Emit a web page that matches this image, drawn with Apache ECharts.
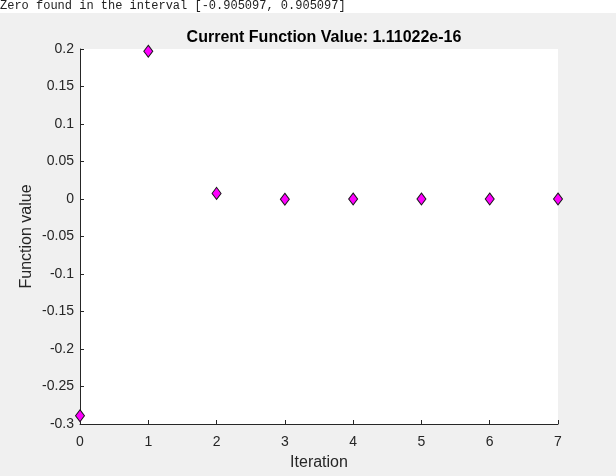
<!DOCTYPE html>
<html>
<head>
<meta charset="utf-8">
<script src="https://cdn.jsdelivr.net/npm/echarts@6/dist/echarts.min.js"></script>
<style>
html,body{margin:0;padding:0;background:#f0f0f0;}
#c{width:616px;height:476px;}
</style>
</head>
<body>
<div id="c"></div>
<script>
const iterations = [0, 1, 2, 3, 4, 5, 6, 7];
const fvals = [-0.289, 0.197, 0.0075, -0.0003, 0.00001, 0, 0, 1.11022e-16];
const headerText = 'Zero found in the interval [-0.905097, 0.905097]';
const titleText = 'Current Function Value: 1.11022e-16';
const yTickLabels = {'0.2':'0.2','0.15':'0.15','0.1':'0.1','0.05':'0.05','0':'0','-0.05':'-0.05','-0.1':'-0.1','-0.15':'-0.15','-0.2':'-0.2','-0.25':'-0.25','-0.3':'-0.3'};

const chart = echarts.init(document.getElementById('c'), null, {renderer:'canvas'});
const axisColor = '#262626';
const font = '"Liberation Sans", Arial, Helvetica, sans-serif';
chart.setOption({
  backgroundColor: '#f0f0f0',
  animation: false,
  graphic: [
    {type:'rect', shape:{x:0,y:0,width:616,height:13}, style:{fill:'#ffffff'}, silent:true},
    {type:'text', left:0, top:0, style:{text: headerText, font:'12px "Liberation Mono", "DejaVu Sans Mono", monospace', fill:'#222222'}}
  ],
  title: {
    text: titleText,
    left: 319, top: 25, textAlign: 'center',
    textStyle: {fontFamily: font, fontSize: 16, fontWeight: 'bold', color: '#000000'}
  },
  grid: {left: 80, right: 58, top: 49, bottom: 52, containLabel: false, show: true, backgroundColor: '#ffffff', borderWidth: 0},
  xAxis: {
    type: 'value', min: 0, max: 7, interval: 1,
    name: 'Iteration', nameLocation: 'middle', nameGap: 31, nameMoveOverlap: false,
    nameTextStyle: {fontFamily: font, fontSize: 16, color: axisColor},
    axisLine: {show: true, onZero: false, lineStyle: {color: axisColor, width: 1}},
    axisTick: {show: true, inside: true, length: 4, lineStyle: {color: axisColor}},
    axisLabel: {fontFamily: font, fontSize: 14, color: axisColor, margin: 11},
    splitLine: {show: false}
  },
  yAxis: {
    type: 'value', min: -0.3, max: 0.2, interval: 0.05,
    name: 'Function value', nameLocation: 'middle', nameGap: 45, nameRotate: 90, nameMoveOverlap: false,
    nameTextStyle: {fontFamily: font, fontSize: 16, color: axisColor},
    axisLine: {show: true, onZero: false, lineStyle: {color: axisColor, width: 1}},
    axisTick: {show: true, inside: true, length: 4, lineStyle: {color: axisColor}},
    axisLabel: {fontFamily: font, fontSize: 14, color: axisColor, margin: 6,
      formatter: v => { const k = String(Math.round(v*100)/100); return yTickLabels[k] !== undefined ? yTickLabels[k] : k; }},
    splitLine: {show: false}
  },
  series: [{
    type: 'scatter',
    data: iterations.map((x, i) => [x, fvals[i]]),
    symbol: 'diamond',
    symbolSize: [9, 12],
    itemStyle: {color: '#ff00ff', borderColor: '#1a1a1a', borderWidth: 1, opacity: 1},
    clip: false
  }]
});
</script>
</body>
</html>
